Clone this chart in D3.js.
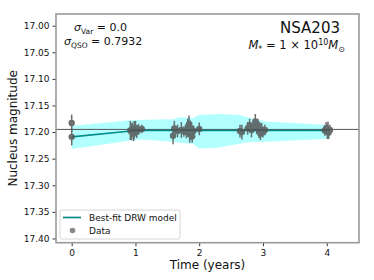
<!DOCTYPE html>
<html><head><meta charset="utf-8">
<script src="https://cdn.jsdelivr.net/npm/d3@7"></script>
<style>body{margin:0;background:#fff}svg{display:block;font-family:"DejaVu Sans",sans-serif}</style>
</head><body><svg id="c" width="374" height="280"></svg>
<script>
// Data
const xTicks = [0, 1, 2, 3, 4];
const yTicks = [17.00, 17.05, 17.10, 17.15, 17.20, 17.25, 17.30, 17.35, 17.40];
const refLevel = 17.195;
const modelT    = [0, 0.93, 1.10, 1.59, 1.70, 1.90, 2.00, 2.30, 2.64, 2.75, 3.05, 3.97, 4.05];
const modelMean = [17.209, 17.198, 17.197, 17.197, 17.197, 17.197, 17.197, 17.197, 17.197, 17.197, 17.197, 17.197, 17.197];
const modelTop  = [17.188, 17.178, 17.177, 17.176, 17.172, 17.174, 17.168, 17.166, 17.168, 17.172, 17.180, 17.186, 17.188];
const modelBot  = [17.232, 17.216, 17.214, 17.218, 17.220, 17.222, 17.231, 17.229, 17.222, 17.219, 17.218, 17.213, 17.210];
const dataT   = [0.00,0.00,0.92,0.94,0.95,0.97,0.98,1.00,1.02,1.05,1.10,1.59,1.61,1.66,1.72,1.76,1.80,1.82,1.84,1.85,1.86,1.87,1.88,1.89,1.91,2.00,2.64,2.67,2.76,2.79,2.82,2.85,2.88,2.90,2.92,2.94,2.96,2.98,3.00,3.03,3.97,3.99,4.01,4.02,4.03,4.05];
const dataMag = [17.183,17.209,17.197,17.200,17.194,17.203,17.196,17.192,17.199,17.195,17.194,17.207,17.193,17.198,17.196,17.199,17.200,17.190,17.185,17.204,17.196,17.201,17.193,17.208,17.198,17.194,17.198,17.200,17.193,17.187,17.196,17.190,17.180,17.192,17.186,17.198,17.203,17.195,17.200,17.196,17.197,17.193,17.199,17.195,17.201,17.196];
const dataErr = [0.016,0.016,0.018,0.015,0.012,0.014,0.017,0.013,0.012,0.010,0.008,0.016,0.014,0.012,0.015,0.010,0.012,0.015,0.016,0.016,0.018,0.014,0.012,0.012,0.010,0.012,0.012,0.014,0.012,0.012,0.014,0.010,0.014,0.012,0.011,0.013,0.012,0.012,0.010,0.010,0.010,0.012,0.014,0.015,0.012,0.010];

const svg = d3.select("#c");
const L = 56, R = 359, T = 14, B = 242.7;
const x = d3.scaleLinear().domain([-0.246, 4.506]).range([L, R]);
const y = d3.scaleLinear().domain([16.978, 17.408]).range([T, B]);

// band
const model = modelT.map((t, i) => ({t, m: modelMean[i], a: modelTop[i], b: modelBot[i]}));
svg.append("path").datum(model)
  .attr("d", d3.area().x(d => x(d.t)).y0(d => y(d.a)).y1(d => y(d.b)))
  .attr("fill", "#00ffff").attr("fill-opacity", 0.3);

// reference line
svg.append("line").attr("x1", L).attr("x2", R).attr("y1", y(refLevel)).attr("y2", y(refLevel))
  .attr("stroke", "#555").attr("stroke-width", 1);

// model line
svg.append("path").datum(model)
  .attr("d", d3.line().x(d => x(d.t)).y(d => y(d.m)))
  .attr("fill", "none").attr("stroke", "#008b8b").attr("stroke-width", 1.7);

// data
const pts = dataT.map((t, i) => ({t, m: dataMag[i], e: dataErr[i]}));
const g = svg.append("g").attr("opacity", 0.85);
g.selectAll("line.err").data(pts).join("line")
  .attr("x1", d => x(d.t)).attr("x2", d => x(d.t))
  .attr("y1", d => y(d.m - d.e)).attr("y2", d => y(d.m + d.e))
  .attr("stroke", "#555").attr("stroke-width", 1.5);
g.selectAll("circle").data(pts).join("circle")
  .attr("cx", d => x(d.t)).attr("cy", d => y(d.m)).attr("r", 3.2)
  .attr("fill", "#555");

// axes
const xa = svg.append("g").attr("transform", `translate(0,${B})`)
  .call(d3.axisBottom(x).tickValues(xTicks).tickFormat(d3.format("d")).tickSize(3.5).tickPadding(3));
const ya = svg.append("g").attr("transform", `translate(${L},0)`)
  .call(d3.axisLeft(y).tickValues(yTicks).tickFormat(d3.format(".2f")).tickSize(3.5).tickPadding(3));
[xa, ya].forEach(a => {
  a.select(".domain").remove();
  a.selectAll("text").attr("font-size", 9).attr("fill", "#111").attr("font-family", "DejaVu Sans");
  a.selectAll("line").attr("stroke", "#333");
});

// frame
svg.append("rect").attr("x", L).attr("y", T).attr("width", R - L).attr("height", B - T)
  .attr("fill", "none").attr("stroke", "#999").attr("stroke-width", 1.6);

// labels
svg.append("text").attr("x", (L + R) / 2).attr("y", 269).attr("text-anchor", "middle")
  .attr("font-size", 12).attr("fill", "#111").text("Time (years)");
svg.append("text").attr("transform", `translate(17,${(T + B) / 2}) rotate(-90)`)
  .attr("text-anchor", "middle").attr("font-size", 12).attr("fill", "#111").text("Nucleus magnitude");

// annotations
function sigma(xp, yp, sub, val) {
  const t = svg.append("text").attr("x", xp).attr("y", yp).attr("font-size", 11).attr("fill", "#111");
  t.append("tspan").attr("font-style", "italic").text("σ");
  t.append("tspan").attr("font-size", 7.5).attr("dy", 2.5).text(sub);
  t.append("tspan").attr("dy", -2.5).text(" = " + val);
}
sigma(74, 31, "Var", "0.0");
sigma(64, 45, "QSO", "0.7932");

svg.append("text").attr("x", 340).attr("y", 32.5).attr("text-anchor", "end")
  .attr("font-size", 15).attr("fill", "#111").text("NSA203");
const mt = svg.append("text").attr("x", 345).attr("y", 49).attr("text-anchor", "end")
  .attr("font-size", 11.5).attr("fill", "#111");
mt.append("tspan").attr("font-style", "italic").text("M");
mt.append("tspan").attr("font-size", 8).attr("dy", 2.5).text("*");
mt.append("tspan").attr("dy", -2.5).text(" = 1 × 10");
mt.append("tspan").attr("font-size", 8).attr("dy", -4).text("10");
mt.append("tspan").attr("dy", 4).attr("font-style", "italic").text("M");
mt.append("tspan").attr("font-size", 8).attr("dy", 2.5).text("⊙");

// legend
const lg = svg.append("g");
lg.append("rect").attr("x", 60).attr("y", 210).attr("width", 120).attr("height", 29).attr("rx", 2)
  .attr("fill", "#fff").attr("fill-opacity", 0.8).attr("stroke", "#ccc").attr("stroke-width", 0.8);
lg.append("line").attr("x1", 63).attr("x2", 81).attr("y1", 217.5).attr("y2", 217.5)
  .attr("stroke", "#008b8b").attr("stroke-width", 1.7);
lg.append("text").attr("x", 89).attr("y", 220.8).attr("font-size", 9).attr("fill", "#111").text("Best-fit DRW model");
lg.append("circle").attr("cx", 72.5).attr("cy", 230.5).attr("r", 2.8).attr("fill", "#888");
lg.append("text").attr("x", 89).attr("y", 233.8).attr("font-size", 9).attr("fill", "#111").text("Data");
</script></body></html>
